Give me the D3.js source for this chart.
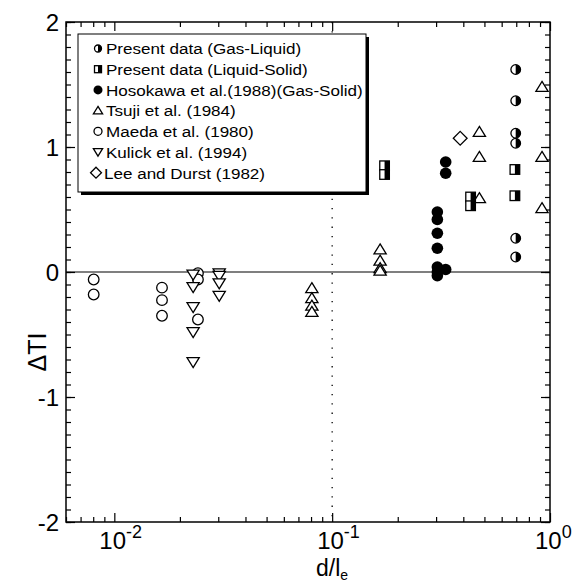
<!DOCTYPE html>
<html><head><meta charset="utf-8">
<script src="https://cdn.jsdelivr.net/npm/d3@7"></script>
<style>body{margin:0;background:#fff}svg{display:block}text{font-family:"Liberation Sans",Arial,sans-serif;fill:#000}</style>
</head><body><svg id="c" width="585" height="585"></svg>
<script>
// ---- data ----
const gasLiquidX = [0.696, 0.696, 0.696, 0.696, 0.696, 0.696];
const gasLiquidY = [1.62, 1.37, 1.11, 1.03, 0.27, 0.12];
const liquidSolidX = [0.174, 0.174, 0.432, 0.432, 0.69, 0.69];
const liquidSolidY = [0.85, 0.78, 0.60, 0.53, 0.82, 0.61];
const hosokawaX = [0.304, 0.304, 0.304, 0.304, 0.304, 0.304, 0.304, 0.332, 0.332, 0.332];
const hosokawaY = [0.48, 0.42, 0.31, 0.19, 0.04, 0.0, -0.03, 0.88, 0.79, 0.02];
const tsujiX = [0.0807, 0.0807, 0.0807, 0.0807, 0.166, 0.166, 0.166, 0.166, 0.474, 0.474, 0.474, 0.919, 0.919, 0.919];
const tsujiY = [-0.13, -0.21, -0.27, -0.32, 0.18, 0.09, 0.03, 0.01, 1.12, 0.92, 0.59, 1.48, 0.92, 0.51];
const maedaX = [0.00804, 0.00804, 0.01655, 0.01655, 0.01655, 0.0242, 0.0242, 0.0242];
const maedaY = [-0.06, -0.18, -0.125, -0.225, -0.35, -0.01, -0.06, -0.38];
const kulickX = [0.0230, 0.0230, 0.0230, 0.0230, 0.0230, 0.0303, 0.0303, 0.0303, 0.0303];
const kulickY = [-0.02, -0.12, -0.28, -0.48, -0.72, -0.01, -0.03, -0.09, -0.19];
const leeX = [0.387];
const leeY = [1.07];
const yTicks = [-2, -1, 0, 1, 2];
const xTicks = [0.01, 0.1, 1];
const xTickExp = ["-2", "-1", "0"];
const legendLabels = ["Present data (Gas-Liquid)", "Present data (Liquid-Solid)", "Hosokawa et al.(1988)(Gas-Solid)",
  "Tsuji et al. (1984)", "Maeda et al. (1980)", "Kulick et al. (1994)", "Lee and Durst (1982)"];
const legendKinds = ["halfCircle", "halfSquare", "filledCircle", "triUp", "circle", "triDown", "diamond"];

// ---- layout ----
const L = 66, R = 550, T = 22, B = 522;
const svg = d3.select("#c");
const x = d3.scaleLog().domain([0.006, 1]).range([L, R]);
const y = d3.scaleLinear().domain([-2, 2]).range([B, T]);

// zero line & dotted line at 0.1
svg.append("line").attr("x1", L).attr("x2", R).attr("y1", y(0)).attr("y2", y(0)).attr("stroke", "#000").attr("stroke-width", 1.2);
svg.append("line").attr("x1", x(0.1)).attr("x2", x(0.1)).attr("y1", T).attr("y2", B)
  .attr("stroke", "#000").attr("stroke-width", 1.3).attr("stroke-dasharray", "1.3,8");

// axes (ticks inward)
const minorY = d3.range(-20, 21).map(d => d / 10);
const xMinor = [];
[0.001, 0.01, 0.1].forEach(dec => { for (let k = 2; k <= 9; k++) { const v = k * dec; if (v >= 0.006 && v < 1) xMinor.push(v); } });
function ax(gen, tr, vals, size) {
  const g = svg.append("g").attr("transform", tr).call(gen.tickValues(vals).tickSize(size).tickFormat(""));
  g.select(".domain").remove();
  g.selectAll("line").attr("stroke", "#000").attr("stroke-width", 1.2);
}
ax(d3.axisRight(y), `translate(${L},0)`, minorY, 5);
ax(d3.axisRight(y), `translate(${L},0)`, yTicks, 9);
ax(d3.axisLeft(y), `translate(${R},0)`, minorY, 5);
ax(d3.axisLeft(y), `translate(${R},0)`, yTicks, 9);
ax(d3.axisTop(x), `translate(0,${B})`, xMinor, 5);
ax(d3.axisTop(x), `translate(0,${B})`, xTicks, 9);
ax(d3.axisBottom(x), `translate(0,${T})`, xMinor, 5);
ax(d3.axisBottom(x), `translate(0,${T})`, xTicks, 9);
svg.append("rect").attr("x", L).attr("y", T).attr("width", R - L).attr("height", B - T)
  .attr("fill", "none").attr("stroke", "#000").attr("stroke-width", 1.5);

// tick labels
yTicks.forEach(v => {
  svg.append("text").attr("x", 59).attr("y", y(v) + 8.5).attr("text-anchor", "end").attr("font-size", 24).text(v);
});
xTicks.forEach((v, i) => {
  const t = svg.append("text").attr("x", x(v) - 15).attr("y", 549).attr("text-anchor", "start").attr("font-size", 24);
  t.append("tspan").text("10");
  t.append("tspan").attr("dy", -11).attr("font-size", 18).text(xTickExp[i]);
});
// axis titles
const xt = svg.append("text").attr("x", 332).attr("y", 576).attr("text-anchor", "middle").attr("font-size", 23);
xt.append("tspan").text("d/l");
xt.append("tspan").attr("dy", 4).attr("font-size", 14).text("e");
svg.append("text").attr("transform", "translate(46,352) rotate(-90)").attr("text-anchor", "middle").attr("font-size", 25).text("ΔTI");

// markers
function drawMarker(g, kind, cx, cy, s) {
  const sw = 1.3;
  if (kind === "circle") {
    g.append("circle").attr("cx", cx).attr("cy", cy).attr("r", s).attr("fill", "#fff").attr("stroke", "#000").attr("stroke-width", sw);
  } else if (kind === "filledCircle") {
    g.append("circle").attr("cx", cx).attr("cy", cy).attr("r", s + 0.5).attr("fill", "#000");
  } else if (kind === "halfCircle") {
    const r = s - 0.5;
    g.append("circle").attr("cx", cx).attr("cy", cy).attr("r", r).attr("fill", "#fff").attr("stroke", "#000").attr("stroke-width", sw);
    g.append("path").attr("d", `M${cx},${cy - r}A${r},${r} 0 0 1 ${cx},${cy + r}Z`).attr("fill", "#000");
  } else if (kind === "halfSquare") {
    const h = s - 0.5;
    g.append("rect").attr("x", cx - h).attr("y", cy - h).attr("width", 2 * h).attr("height", 2 * h).attr("fill", "#fff").attr("stroke", "#000").attr("stroke-width", sw);
    g.append("rect").attr("x", cx).attr("y", cy - h).attr("width", h).attr("height", 2 * h).attr("fill", "#000");
  } else if (kind === "triUp") {
    const h = s * 1.05;
    g.append("path").attr("d", `M${cx},${cy - h}L${cx + h * 1.1},${cy + h * 0.8}L${cx - h * 1.1},${cy + h * 0.8}Z`)
      .attr("fill", "#fff").attr("stroke", "#000").attr("stroke-width", sw);
  } else if (kind === "triDown") {
    const h = s * 1.05;
    g.append("path").attr("d", `M${cx},${cy + h}L${cx + h * 1.1},${cy - h * 0.8}L${cx - h * 1.1},${cy - h * 0.8}Z`)
      .attr("fill", "#fff").attr("stroke", "#000").attr("stroke-width", sw);
  } else if (kind === "diamond") {
    const h = s * 1.3;
    g.append("path").attr("d", `M${cx},${cy - h}L${cx + h},${cy}L${cx},${cy + h}L${cx - h},${cy}Z`)
      .attr("fill", "#fff").attr("stroke", "#000").attr("stroke-width", sw);
  }
}
const plotG = svg.append("g");
const seriesList = [
  [maedaX, maedaY, "circle"], [kulickX, kulickY, "triDown"], [tsujiX, tsujiY, "triUp"],
  [hosokawaX, hosokawaY, "filledCircle"], [leeX, leeY, "diamond"],
  [liquidSolidX, liquidSolidY, "halfSquare"], [gasLiquidX, gasLiquidY, "halfCircle"]
];
seriesList.forEach(([xs, ys, kind]) => {
  xs.forEach((xv, i) => drawMarker(plotG, kind, x(xv), y(ys[i]), 5.3));
});

// legend
const lg = svg.append("g");
const lx = 78, ly = 34, lw = 288, lh = 158;
lg.append("rect").attr("x", lx + 3).attr("y", ly + 3).attr("width", lw).attr("height", lh).attr("fill", "#000");
lg.append("rect").attr("x", lx).attr("y", ly).attr("width", lw).attr("height", lh).attr("fill", "#fff").attr("stroke", "#000").attr("stroke-width", 1);
legendLabels.forEach((lab, i) => {
  const cy = 48.5 + i * 20.7;
  const kind = legendKinds[i];
  const mx = kind === "diamond" ? 96 : 98;
  drawMarker(lg, kind, mx, cy, kind === "diamond" ? 4.2 : 4);
  const tx = kind === "diamond" ? 104 : 106;
  lg.append("text").attr("transform", `translate(${tx},${cy + 5.8}) scale(1.1,1)`).attr("font-size", 15.5).text(lab);
});
</script></body></html>
